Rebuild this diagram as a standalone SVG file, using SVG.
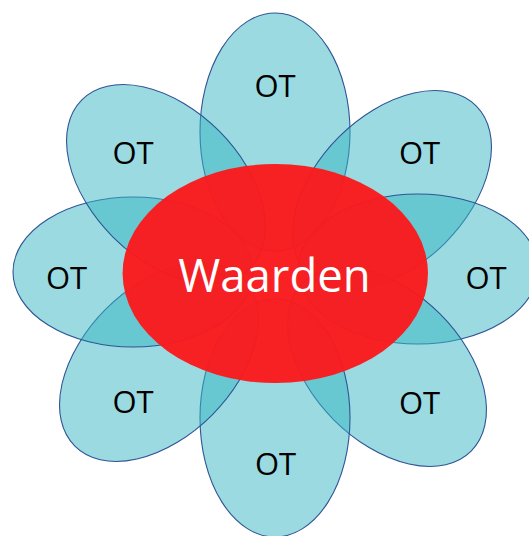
<svg xmlns="http://www.w3.org/2000/svg" width="529" height="536" viewBox="0 0 529 536">
  <style>
    .petal { fill: #35b5c1; fill-opacity: 0.5; stroke: #2f5496; stroke-width: 1.1; }
    .petal-label { font-family: "Open Sans", "Noto Sans", "Liberation Sans", sans-serif; font-size: 31px; fill: #000; text-anchor: middle; }
    .core { fill: #fa1a1d; fill-opacity: 0.97; }
    .core-label { font-family: "Open Sans", "Noto Sans", "Liberation Sans", sans-serif; font-size: 45.5px; fill: #fff; text-anchor: middle; }
  </style>
  <rect width="529" height="536" fill="#fff"/>

  <!-- petals arranged around the centre -->
  <g id="petal-top">
    <ellipse class="petal" cx="275" cy="132" rx="75" ry="119"/>
    <text class="petal-label" x="275" y="97">OT</text>
  </g>
  <g id="petal-upper-right">
    <ellipse class="petal" cx="0" cy="0" rx="119" ry="75" transform="translate(392 190) rotate(-45)"/>
    <text class="petal-label" x="419.5" y="164">OT</text>
  </g>
  <g id="petal-right">
    <ellipse class="petal" cx="418" cy="269" rx="120" ry="75"/>
    <text class="petal-label" x="486" y="289">OT</text>
  </g>
  <g id="petal-lower-right">
    <ellipse class="petal" cx="0" cy="0" rx="119" ry="75" transform="translate(387 367) rotate(45)"/>
    <text class="petal-label" x="419.5" y="414">OT</text>
  </g>
  <g id="petal-bottom">
    <ellipse class="petal" cx="275" cy="418" rx="75" ry="119"/>
    <text class="petal-label" x="275.5" y="475">OT</text>
  </g>
  <g id="petal-lower-left">
    <ellipse class="petal" cx="0" cy="0" rx="119" ry="75" transform="translate(159 362) rotate(-45)"/>
    <text class="petal-label" x="133" y="413">OT</text>
  </g>
  <g id="petal-left">
    <ellipse class="petal" cx="133" cy="272" rx="120" ry="75"/>
    <text class="petal-label" x="66.5" y="289">OT</text>
  </g>
  <g id="petal-upper-left">
    <ellipse class="petal" cx="0" cy="0" rx="119" ry="75" transform="translate(166 184) rotate(45)"/>
    <text class="petal-label" x="133" y="164">OT</text>
  </g>

  <!-- central value -->
  <g id="core">
    <ellipse class="core" cx="275.3" cy="273.5" rx="152.7" ry="109.5"/>
    <text class="core-label" x="274.5" y="291.5">Waarden</text>
  </g>
</svg>
